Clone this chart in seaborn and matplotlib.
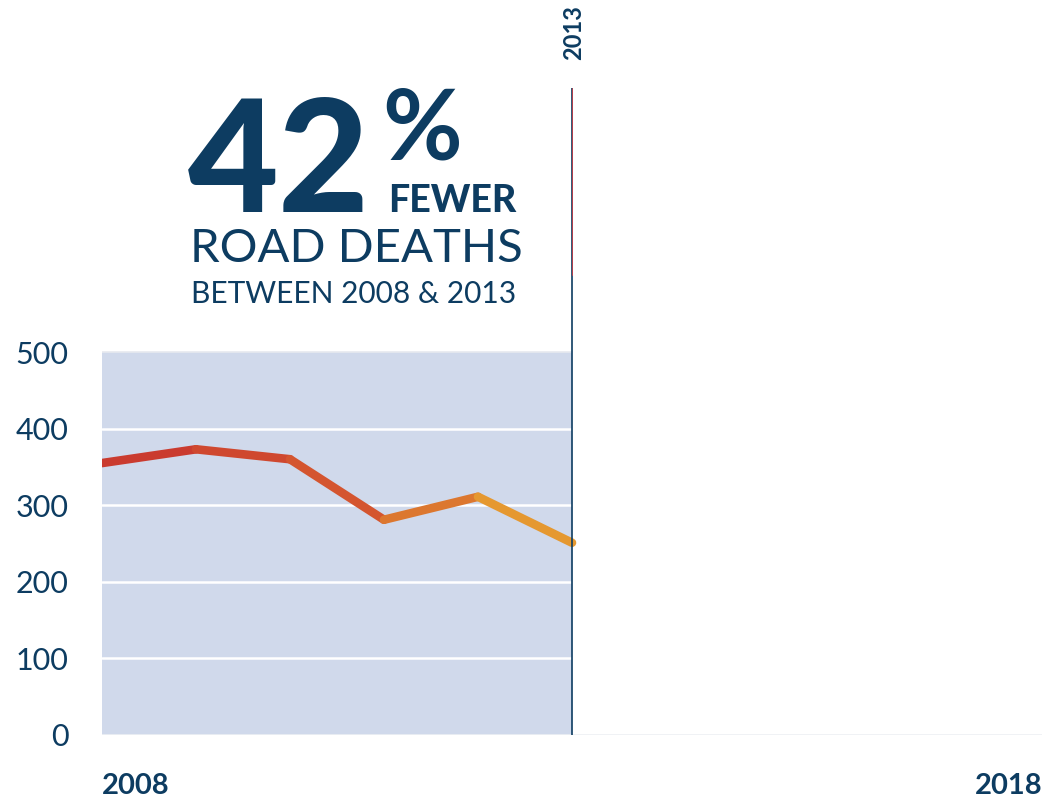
import matplotlib
matplotlib.use("Agg")
import matplotlib.pyplot as plt
import seaborn as sns
import pandas as pd
import numpy as np
from matplotlib.colors import LinearSegmentedColormap

years = [2008, 2009, 2010, 2011, 2012, 2013]
deaths = [355, 373, 360, 281, 311, 251]
y_ticks = [0, 100, 200, 300, 400, 500]
x_ticks = [2008, 2018]
x_tick_labels = ["2008", "2018"]
shade_years = [2008, 2013]
shade_top = [500, 500]
marker_year = 2013

NAVY = "#0d3c61"
sns.set_theme(style="white")
plt.rcParams["font.family"] = ["Lato", "DejaVu Sans"]

fig = plt.figure(figsize=(10.57, 8.02), dpi=100)
ax = fig.add_axes([102/1057, 1-735/802, 940/1057, 647/802])
ymax = 647/383*500

ax.fill_between(shade_years, 0, shade_top, color="#d0d9eb", lw=0, zorder=0)
for t in y_ticks[1:-1]:
    ax.plot(shade_years, [t, t], color="white", lw=1.8, zorder=1)
ax.plot(shade_years, [500, 500], color="#e6e9ef", lw=1.2, zorder=1)
ax.axhline(0, color="#eef0f4", lw=1.2, zorder=1)

# gradient-coloured line: one seaborn line per consecutive segment
cmap = LinearSegmentedColormap.from_list("g", ["#c8352f", "#d4552f", "#e9a830"])
rows = []
for i in range(len(years)-1):
    rows.append({"year": years[i], "deaths": deaths[i], "seg": i})
    rows.append({"year": years[i+1], "deaths": deaths[i+1], "seg": i})
df = pd.DataFrame(rows)
n = len(years)-1
pal = [cmap((i+0.5)/n) for i in range(n)]
sns.lineplot(data=df, x="year", y="deaths", hue="seg", palette=pal, lw=6.2,
             legend=False, ax=ax, zorder=3, solid_capstyle="round",
             solid_joinstyle="round", estimator=None, sort=False)

ax.axvline(marker_year, color=NAVY, lw=1.2, zorder=4)
ax.plot([marker_year, marker_year], [600, ymax], color="#b8404a", lw=0.7, zorder=5)

ax.set_xlim(2008, 2018)
ax.set_ylim(0, ymax)
ax.set_yticks(y_ticks)
ax.set_yticklabels([str(t) for t in y_ticks], fontsize=22, color=NAVY)
ax.set_xticks(x_ticks)
ax.set_xticklabels(x_tick_labels, fontsize=21, fontweight="bold", color=NAVY)
xl = ax.get_xticklabels()
xl[0].set_ha("left")
xl[1].set_ha("right")
ax.tick_params(axis="y", length=0, pad=24)
ax.tick_params(axis="x", length=0, pad=27)
for s in ax.spines.values():
    s.set_visible(False)
ax.set_xlabel("")
ax.set_ylabel("")

fig.text(574/1057, 1-33/802, "2013", rotation=90, ha="center", va="center",
         fontsize=17, fontweight="bold", color=NAVY)
fig.text(188/1057, 1-212/802, "42", ha="left", va="baseline", fontsize=113,
         fontweight="black", color=NAVY)
fig.text(382/1057, 1-160/802, "%", ha="left", va="baseline", fontsize=70,
         fontweight="bold", color=NAVY)
fig.text(388/1057, 1-212/802, "FEWER", ha="left", va="baseline", fontsize=27,
         fontweight="black", color=NAVY)
fig.text(190/1057, 1-262/802, "ROAD DEATHS", ha="left", va="baseline", fontsize=34,
         fontweight="normal", color=NAVY)
fig.text(191/1057, 1-303/802, "BETWEEN 2008 & 2013", ha="left", va="baseline",
         fontsize=21.5, fontweight="normal", color=NAVY)

fig.savefig("out.png", dpi=100)
